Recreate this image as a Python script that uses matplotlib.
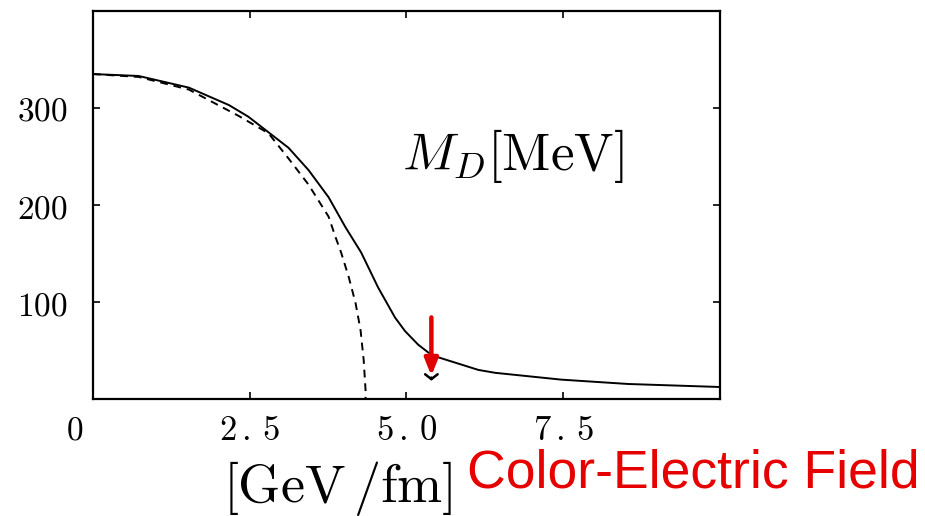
import matplotlib
matplotlib.use('Agg')
import matplotlib.pyplot as plt

plt.rcParams['mathtext.fontset'] = 'cm'

# solid curve
field_solid = [0.0, 0.73, 1.53, 2.17, 2.48, 2.80, 3.12, 3.44, 3.76, 4.03, 4.28,
               4.55, 4.82, 4.98, 5.19, 5.35, 5.51, 6.15, 6.42, 7.47, 8.54, 10.0]
md_solid = [335, 333, 321, 303, 291, 275, 259, 236, 208, 177, 151,
            115, 84, 70, 56, 48, 43, 30, 27, 20, 15.5, 12.4]

# dashed curve
field_dash = [0.0, 0.73, 1.53, 2.32, 2.80, 3.12, 3.44, 3.76, 3.87, 3.96, 4.08,
              4.19, 4.27, 4.32, 4.35, 4.35]
md_dash = [335, 332, 319, 292, 274, 248, 221, 188, 167, 151, 126,
           99, 71, 40, 9, 0]

xticks = [2.5, 5.0, 7.5]
xtick_labels = [r'$2\,.\,5$', r'$5\,.\,0$', r'$7\,.\,5$']
yticks = [100, 200, 300]
ytick_labels = [r'$100$', r'$200$', r'$300$']

arrow_x = 5.4
arrow_top = 87
arrow_tip = 21

fig = plt.figure(figsize=(9.25, 5.16), dpi=100)
ax = fig.add_axes((0.1005, 0.2267, 0.6775, 0.752))

ax.plot(field_solid, md_solid, color='black', lw=1.4)
ax.plot(field_dash, md_dash, color='black', lw=1.4, ls=(0, (4, 3)))

ax.set_xlim(0, 10)
ax.set_ylim(0, 400)

ax.set_xticks(xticks)
ax.set_xticklabels(xtick_labels, fontsize=25)
ax.set_yticks(yticks)
ax.set_yticklabels(ytick_labels, fontsize=24)
ax.tick_params(direction='in', length=5, width=1.2, top=True, right=True)
ax.tick_params(axis='x', pad=10)
ax.tick_params(axis='y', pad=18)
for s in ax.spines.values():
    s.set_linewidth(1.6)

# lone "0" under the corner
ax.text(-0.30, -32, r'$0$', fontsize=24, ha='center', va='center',
        clip_on=False)

ax.text(6.7, 251, r'$M_D[\mathrm{MeV}]$', fontsize=38, ha='center',
        va='center')

# small black arrow head from the original figure
ax.annotate('', xy=(arrow_x, 16), xytext=(arrow_x, 25),
            arrowprops=dict(arrowstyle='->,head_width=0.45,head_length=0.35',
                            color='black', lw=1.8))
# red arrow
ax.annotate('', xy=(arrow_x, arrow_tip), xytext=(arrow_x, arrow_top),
            arrowprops=dict(arrowstyle='-|>,head_width=0.4,head_length=1.0',
                            color='#e00000', lw=3.2))

fig.text(338 / 925, 1 - 488 / 516, r'$[\mathrm{GeV\,/fm}]$', fontsize=39,
         ha='center', va='center')
fig.text(467 / 925, 1 - 488 / 516, 'Color-Electric Field', fontsize=38.5,
         color='#e60000', family='Liberation Sans', ha='left',
         va='baseline')

fig.savefig('out.png')
